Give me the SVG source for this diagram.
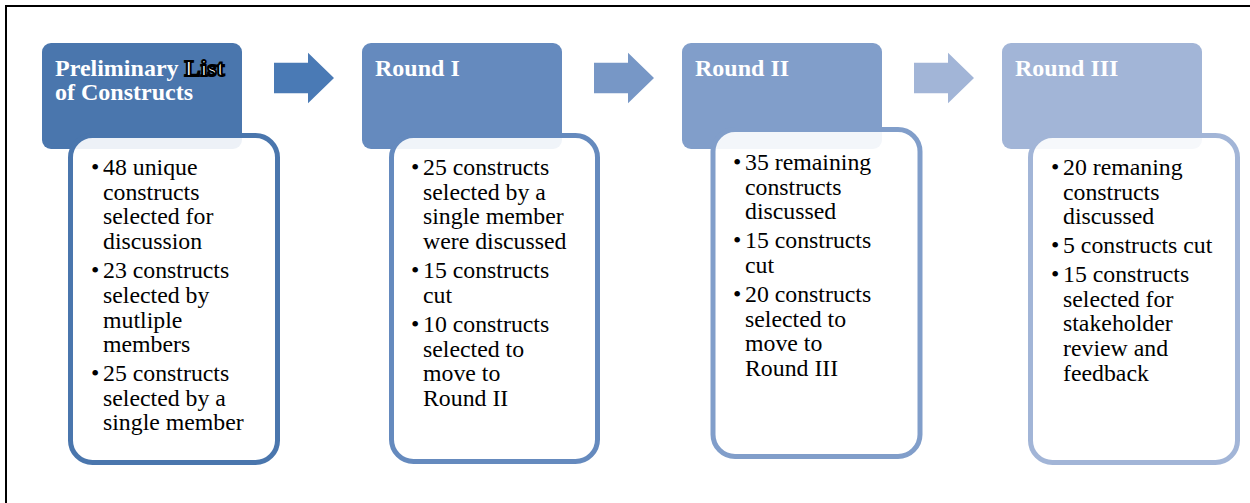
<svg xmlns="http://www.w3.org/2000/svg" width="1250" height="503" viewBox="0 0 1250 503">
<style>
.hd{font-family:"Liberation Serif","Times New Roman",serif;font-weight:bold;font-size:24px;fill:#ffffff}
.bt{font-family:"Liberation Serif","Times New Roman",serif;font-size:23.8px;fill:#000000}
.bd{fill:#ffffff;fill-opacity:0.9;stroke-width:5}
.ls{fill:#ffffff;stroke:#000000;stroke-width:2}
</style>
<rect x="0" y="0" width="1250" height="503" fill="#ffffff"/>
<path d="M6,503 V6 H1250" fill="none" stroke="#000000" stroke-width="2"/>

<g id="connectors">
<polygon points="274,62.7 308,62.7 308,52.7 334,78 308,103.3 308,93.3 274,93.3" fill="#4A7AB5"/>
<polygon points="594,62.7 628,62.7 628,52.7 654,78 628,103.3 628,93.3 594,93.3" fill="#7797C6"/>
<polygon points="914,62.7 948,62.7 948,52.7 974,78 948,103.3 948,93.3 914,93.3" fill="#A2B5D7"/>
</g>

<g id="node-preliminary">
<rect x="42" y="43" width="200" height="106" rx="9" fill="#4A76AD"/>
<text class="hd" x="55" y="76">Preliminary <tspan class="ls">List</tspan></text>
<text class="hd" x="55" y="100">of Constructs</text>
<rect class="bd" x="70.5" y="135.5" width="207" height="327" rx="22" stroke="#4A76AD"/>
<g class="bt">
<text x="91" y="175">•</text><text x="103" y="175">48 unique</text>
<text x="103" y="199.5">constructs</text>
<text x="103" y="224.3">selected for</text>
<text x="103" y="249">discussion</text>
<text x="91" y="278.3">•</text><text x="103" y="278.3">23 constructs</text>
<text x="103" y="303">selected by</text>
<text x="103" y="327.5">mutliple</text>
<text x="103" y="352">members</text>
<text x="91" y="381">•</text><text x="103" y="381">25 constructs</text>
<text x="103" y="405.7">selected by a</text>
<text x="103" y="430.3">single member</text>
</g>
</g>

<g id="node-round1">
<rect x="362" y="43" width="200" height="106" rx="9" fill="#658ABE"/>
<text class="hd" x="375" y="76">Round I</text>
<rect class="bd" x="391.5" y="135.5" width="206" height="326" rx="22" stroke="#658ABE"/>
<g class="bt">
<text x="411" y="175">•</text><text x="423" y="175">25 constructs</text>
<text x="423" y="199.5">selected by a</text>
<text x="423" y="224.3">single member</text>
<text x="423" y="249">were discussed</text>
<text x="411" y="278.3">•</text><text x="423" y="278.3">15 constructs</text>
<text x="423" y="303">cut</text>
<text x="411" y="332">•</text><text x="423" y="332">10 constructs</text>
<text x="423" y="356.7">selected to</text>
<text x="423" y="381.3">move to</text>
<text x="423" y="406">Round II</text>
</g>
</g>

<g id="node-round2">
<rect x="682" y="43" width="200" height="106" rx="9" fill="#819ECA"/>
<text class="hd" x="695" y="76">Round II</text>
<rect class="bd" x="713" y="129.5" width="207" height="327" rx="22" stroke="#819ECA"/>
<g class="bt">
<text x="733" y="170">•</text><text x="745" y="170">35 remaining</text>
<text x="745" y="194.5">constructs</text>
<text x="745" y="219">discussed</text>
<text x="733" y="248.3">•</text><text x="745" y="248.3">15 constructs</text>
<text x="745" y="273">cut</text>
<text x="733" y="302">•</text><text x="745" y="302">20 constructs</text>
<text x="745" y="326.5">selected to</text>
<text x="745" y="351">move to</text>
<text x="745" y="375.7">Round III</text>
</g>
</g>

<g id="node-round3">
<rect x="1002" y="43" width="200" height="106" rx="9" fill="#A2B5D7"/>
<text class="hd" x="1015" y="76">Round III</text>
<rect class="bd" x="1030.5" y="135.5" width="207" height="327" rx="22" stroke="#A2B5D7"/>
<g class="bt">
<text x="1051" y="175">•</text><text x="1063" y="175">20 remaning</text>
<text x="1063" y="199.5">constructs</text>
<text x="1063" y="224">discussed</text>
<text x="1051" y="253.3">•</text><text x="1063" y="253.3">5 constructs cut</text>
<text x="1051" y="282">•</text><text x="1063" y="282">15 constructs</text>
<text x="1063" y="306.7">selected for</text>
<text x="1063" y="331.3">stakeholder</text>
<text x="1063" y="356">review and</text>
<text x="1063" y="380.5">feedback</text>
</g>
</g>
</svg>
